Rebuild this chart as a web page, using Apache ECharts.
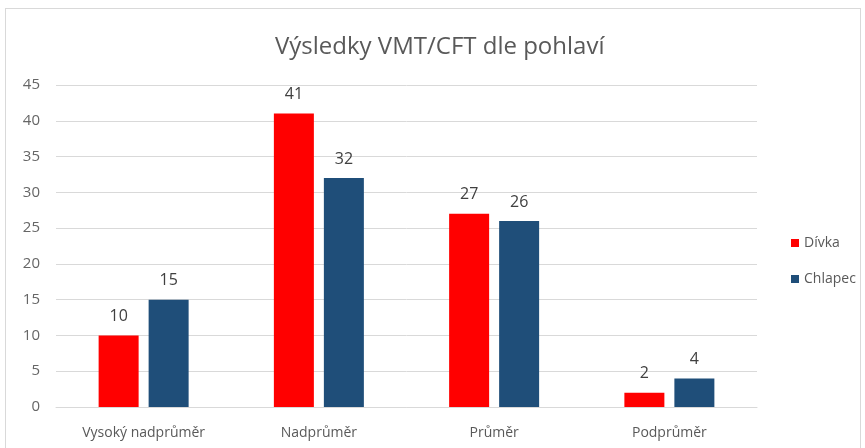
<!DOCTYPE html>
<html>
<head>
<meta charset="utf-8">
<script src="https://cdn.jsdelivr.net/npm/echarts@6/dist/echarts.min.js"></script>
<style>
html, body { margin: 0; padding: 0; background: #fff; }
#frame { position: absolute; left: 5px; top: 8px; width: 856px; height: 450px; border: 1px solid #d9d9d9; box-sizing: border-box; }
#chart { position: absolute; left: 0; top: 0; width: 865px; height: 448px; }
</style>
</head>
<body>
<div id="frame"></div>
<div id="chart"></div>
<script>
// data
var categories = ['Vysoký nadprůměr', 'Nadprůměr', 'Průměr', 'Podprůměr']
var divka = [10, 41, 27, 2]
var chlapec = [15, 32, 26, 4]
var seriesNames = ['Dívka', 'Chlapec']

var font = '"Open Sans", "Liberation Sans", sans-serif'
var labelStyle = {
  show: true,
  position: 'top',
  distance: 11,
  color: '#404040',
  fontSize: 16,
  fontFamily: font
}

var option = {
  backgroundColor: 'transparent',
  animation: false,
  title: {
    text: 'Výsledky VMT/CFT dle pohlaví',
    left: 270,
    top: 30,
    textStyle: {
      color: '#595959',
      fontSize: 24,
      fontWeight: 'normal',
      fontFamily: font
    }
  },
  legend: {
    orient: 'vertical',
    left: 786,
    top: 231,
    itemWidth: 8,
    itemHeight: 8,
    itemGap: 22,
    icon: 'rect',
    data: seriesNames,
    textStyle: { color: '#595959', fontSize: 14, fontFamily: font }
  },
  grid: {
    left: 56,
    right: 108,
    top: 85,
    bottom: 41
  },
  xAxis: {
    type: 'category',
    data: categories,
    axisLine: { lineStyle: { color: '#d9d9d9' } },
    axisTick: { show: false },
    axisLabel: { color: '#595959', fontSize: 14, fontFamily: font, margin: 19 }
  },
  yAxis: {
    type: 'value',
    min: 0,
    max: 45,
    interval: 5,
    axisLine: { show: false },
    axisTick: { show: false },
    axisLabel: { color: '#666666', fontSize: 15, fontFamily: font, margin: 16 },
    splitLine: { lineStyle: { color: '#d9d9d9' } }
  },
  series: [
    {
      name: seriesNames[0],
      type: 'bar',
      data: divka,
      barWidth: 40,
      barGap: '25%',
      itemStyle: { color: '#ff0000' },
      label: labelStyle
    },
    {
      name: seriesNames[1],
      type: 'bar',
      data: chlapec,
      barWidth: 40,
      itemStyle: { color: '#1f4e79' },
      label: labelStyle
    }
  ]
}

var chart = echarts.init(document.getElementById('chart'))
chart.setOption(option)
</script>
</body>
</html>
